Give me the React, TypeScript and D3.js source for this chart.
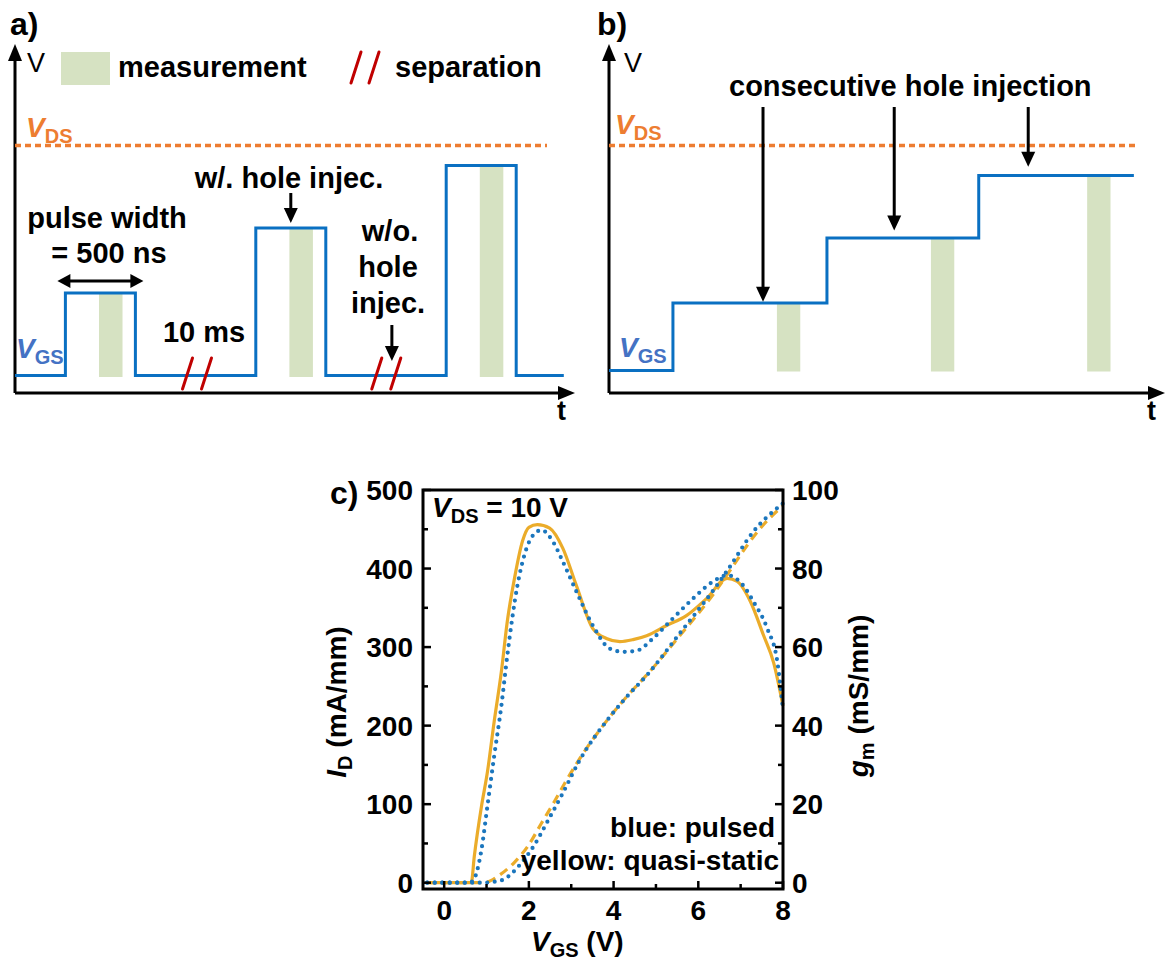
import React from "react";
import * as d3 from "d3";

const W = 1171;
const H = 965;
const FONT = "'Liberation Sans', Arial, Helvetica, sans-serif";

const BLUE = "#0a70c2";
const LBLUE = "#4472c4";
const ORANGE = "#ed7d31";
const GREEN = "#d6e2c2";
const RED = "#c00000";
const YEL = "#ebac2a";
const DOT = "#1b76bd";

// panel a: pulsed V_GS scheme (arbitrary time / voltage units)
const pulseStart = [9, 43, 77];
const pulseWidth = 12.5;
const pulseLevel = [4.0, 6.6, 9.1];
const measOffset = 6;
const measWidth = 4.2;
const baseLevelA = 0.7;
const vdsLevel = 9.9;
const sepMarks = [32.5, 66.3];
const endA = 98;

// panel b: consecutive steps
const stepTimes = [11.5, 39.2, 66.5];
const stepLevels = [0.9, 3.6, 6.2, 8.7];
const endB = 94.4;
const measStartB = [30.2, 57.9, 86];
const injArrowT = [27.7, 51.3, 75.4];
const injArrowTip = [3.65, 6.5, 9.05];

// panel c: transfer curves and transconductance
const vgsTicks = [0, 2, 4, 6, 8];
const vgsMinor = [1, 3, 5, 7];
const idTicks = [0, 100, 200, 300, 400, 500];
const idMinor = [50, 150, 250, 350, 450];
const gmTicks = [0, 20, 40, 60, 80, 100];
const gmMinor = [10, 30, 50, 70, 90];

// g_m, quasi-static (yellow solid)
const gmQsV = [-0.4, 0.3, 0.64, 0.71, 0.88, 1.02, 1.18, 1.35, 1.49, 1.66, 1.85, 2.0, 2.2, 2.49, 2.8, 3.12, 3.51, 3.83, 4.15, 4.46, 4.78, 5.25, 5.72, 6.2, 6.68, 6.92, 7.23, 7.54, 7.78, 8.0];
const gmQs = [0, 0, 0, 6.6, 19.4, 28.1, 41, 53.7, 66.5, 77.5, 87, 90.5, 91.2, 90.3, 85.2, 75.7, 64.7, 62.2, 61.4, 61.9, 62.9, 65.5, 68, 72.4, 77.5, 76.7, 71.6, 63, 56, 45];
// g_m, pulsed (blue dotted)
const gmPV = [-0.4, 0.3, 0.6, 0.71, 0.8, 0.88, 1.02, 1.18, 1.35, 1.49, 1.73, 1.94, 2.1, 2.3, 2.56, 2.8, 3.12, 3.51, 3.91, 4.22, 4.55, 4.93, 5.4, 5.88, 6.35, 6.68, 7.06, 7.3, 7.63, 7.87, 8.0];
const gmP = [0, 0, 0, 1, 4, 8.4, 19.4, 32.2, 45, 57.8, 75.7, 85, 88.5, 89.8, 87, 81.8, 74.2, 65.5, 59.6, 58.8, 59.1, 62.2, 67.3, 72.4, 76.7, 78.3, 75.7, 71.6, 64.7, 56, 44];
// I_D, quasi-static (yellow dashed)
const idQsV = [-0.4, 0.5, 0.85, 1.02, 1.26, 1.66, 1.97, 2.3, 2.61, 2.84, 3.2, 3.91, 4.31, 4.79, 5.57, 6.35, 6.68, 7.16, 7.46, 8.0];
const idQs = [0, 0, 0, 1, 8, 26, 46, 76, 104, 126, 158, 211, 237, 265, 315, 367, 392, 430, 451, 480];
// I_D, pulsed (blue dotted)
const idPV = [-0.4, 0.5, 0.95, 1.15, 1.4, 1.6, 1.82, 2.13, 2.44, 2.8, 3.2, 3.91, 4.3, 4.8, 5.57, 6.35, 6.68, 7.3, 8.0];
const idP = [0, 0, 0, 1, 4, 12, 25, 48, 78, 114, 156, 211, 236, 265, 318, 372, 397, 447, 483];

const zip = (xs: number[], ys: number[]) => xs.map((x, i) => [x, ys[i]] as [number, number]);

function DownArrow({ x, y1, y2 }: { x: number; y1: number; y2: number }) {
  return (
    <g>
      <line x1={x} y1={y1} x2={x} y2={y2 - 12} stroke="#000" strokeWidth={3} />
      <path d={`M${x - 7},${y2 - 15}L${x + 7},${y2 - 15}L${x},${y2}Z`} fill="#000" />
    </g>
  );
}

function Slashes({ cx, y1, y2 }: { cx: number; y1: number; y2: number }) {
  return (
    <g stroke={RED} strokeWidth={3} strokeLinecap="round">
      <line x1={cx - 14.5} y1={y1} x2={cx - 4.5} y2={y2} />
      <line x1={cx + 4.5} y1={y1} x2={cx + 14.5} y2={y2} />
    </g>
  );
}

function Axes({ x0, y0, xEnd, yTop }: { x0: number; y0: number; xEnd: number; yTop: number }) {
  return (
    <g>
      <line x1={x0} y1={y0} x2={x0} y2={yTop + 14} stroke="#000" strokeWidth={3} />
      <path d={`M${x0 - 7},${yTop + 17}L${x0 + 7},${yTop + 17}L${x0},${yTop}Z`} fill="#000" />
      <line x1={x0} y1={y0} x2={xEnd - 14} y2={y0} stroke="#000" strokeWidth={3} />
      <path d={`M${xEnd - 17},${y0 - 7}L${xEnd - 17},${y0 + 7}L${xEnd},${y0}Z`} fill="#000" />
    </g>
  );
}

function Sub({ main, sub, italic = true }: { main: string; sub: string; italic?: boolean }) {
  return (
    <>
      <tspan fontStyle={italic ? "italic" : "normal"}>{main}</tspan>
      <tspan fontSize={20} dy={6}>{sub}</tspan>
    </>
  );
}

export default function App() {
  const xA = d3.scaleLinear().domain([0, 100]).range([15, 575]);
  const yA = d3.scaleLinear().domain([0, 10]).range([393, 143]);
  const xB = d3.scaleLinear().domain([0, 100]).range([609, 1165]);
  const yB = yA.copy();

  const ptsA: [number, number][] = [[0, baseLevelA]];
  pulseStart.forEach((s, i) => {
    ptsA.push([s, baseLevelA], [s, pulseLevel[i]], [s + pulseWidth, pulseLevel[i]], [s + pulseWidth, baseLevelA]);
  });
  ptsA.push([endA, baseLevelA]);
  const lineA = d3.line<[number, number]>().x((d) => xA(d[0])).y((d) => yA(d[1]));

  const ptsB: [number, number][] = [[0, stepLevels[0]], ...stepTimes.map((t, i) => [t, stepLevels[i + 1]] as [number, number]), [endB, stepLevels[3]]];
  const lineB = d3.line<[number, number]>().x((d) => xB(d[0])).y((d) => yB(d[1])).curve(d3.curveStepAfter);

  const xC = d3.scaleLinear().domain([-0.5, 8]).range([423, 783]);
  const yL = d3.scaleLinear().domain([-8, 500]).range([889, 490]);
  const yR = d3.scaleLinear().domain([-1.6, 100]).range([889, 490]);
  const lineL = d3.line<[number, number]>().x((d) => xC(d[0])).y((d) => yL(d[1])).curve(d3.curveMonotoneX);
  const lineR = d3.line<[number, number]>().x((d) => xC(d[0])).y((d) => yR(d[1])).curve(d3.curveMonotoneX);

  const [cl, cr] = xC.range();
  const [cb, ct] = yL.range();

  return (
    <svg width={W} height={H} style={{ position: "absolute", left: 0, top: 0, background: "#fff" }} fontFamily={FONT} fontWeight="bold" fontSize={28}>
      {/* ---------- panel a ---------- */}
      <g fontSize={29}>
        <text x={10} y={35} fontSize={32}>a)</text>
        <Axes x0={xA(0)} y0={yA(0)} xEnd={xA(100)} yTop={44} />
        <text x={27} y={72} fontSize={27} fontWeight="normal">V</text>
        <text x={557} y={420} fontSize={27}>t</text>
        {/* legend */}
        <rect x={61} y={52} width={49} height={33} fill={GREEN} />
        <text x={118} y={77}>measurement</text>
        <g stroke={RED} strokeWidth={3} strokeLinecap="round">
          <line x1={351} y1={83} x2={361} y2={52} />
          <line x1={369} y1={83} x2={379} y2={52} />
        </g>
        <text x={395} y={77}>separation</text>
        {/* VDS */}
        <line x1={xA(0)} x2={xA(95)} y1={yA(vdsLevel)} y2={yA(vdsLevel)} stroke={ORANGE} strokeWidth={3.5} strokeDasharray="6 4" />
        <text x={26} y={137} fill={ORANGE} fontSize={28}><Sub main="V" sub="DS" /></text>
        {/* measurement windows */}
        {pulseStart.map((s, i) => (
          <rect key={i} x={xA(s + measOffset)} width={xA(measWidth) - xA(0)} y={yA(pulseLevel[i])} height={yA(baseLevelA) - yA(pulseLevel[i]) + 1.5} fill={GREEN} />
        ))}
        <path d={lineA(ptsA) || ""} fill="none" stroke={BLUE} strokeWidth={3} />
        <text x={16} y={358} fill={LBLUE} fontSize={28}><Sub main="V" sub="GS" /></text>
        {sepMarks.map((m, i) => (
          <Slashes key={i} cx={xA(m)} y1={389} y2={358} />
        ))}
        {/* annotations */}
        <text x={107} y={228} textAnchor="middle">pulse width</text>
        <text x={109} y={263} textAnchor="middle">= 500 ns</text>
        <g>
          <line x1={xA(pulseStart[0]) - 1} x2={xA(pulseStart[0] + pulseWidth) + 1} y1={281} y2={281} stroke="#000" strokeWidth={3} />
          <path d={`M${xA(pulseStart[0]) - 8},281l13,-7v14Z`} fill="#000" />
          <path d={`M${xA(pulseStart[0] + pulseWidth) + 8},281l-13,-7v14Z`} fill="#000" />
        </g>
        <text x={204} y={342} textAnchor="middle">10 ms</text>
        <text x={289} y={188} textAnchor="middle">w/. hole injec.</text>
        <DownArrow x={xA(pulseStart[1] + pulseWidth / 2)} y1={193} y2={223} />
        <text x={390} y={241} textAnchor="middle">w/o.</text>
        <text x={388} y={277} textAnchor="middle">hole</text>
        <text x={388} y={313} textAnchor="middle">injec.</text>
        <DownArrow x={xA(sepMarks[1] + 1)} y1={325} y2={361} />
      </g>

      {/* ---------- panel b ---------- */}
      <g fontSize={29}>
        <text x={597} y={35} fontSize={32}>b)</text>
        <Axes x0={xB(0)} y0={yB(0)} xEnd={xB(100)} yTop={44} />
        <text x={624} y={72} fontSize={27} fontWeight="normal">V</text>
        <text x={1147} y={420} fontSize={27}>t</text>
        <line x1={xB(0)} x2={xB(95)} y1={yB(vdsLevel)} y2={yB(vdsLevel)} stroke={ORANGE} strokeWidth={3.5} strokeDasharray="6 4" />
        <text x={615} y={134} fill={ORANGE} fontSize={28}><Sub main="V" sub="DS" /></text>
        {measStartB.map((s, i) => (
          <rect key={i} x={xB(s)} width={xB(measWidth) - xB(0)} y={yB(stepLevels[i + 1])} height={yB(stepLevels[0]) - yB(stepLevels[i + 1]) + 1} fill={GREEN} />
        ))}
        <path d={lineB(ptsB) || ""} fill="none" stroke={BLUE} strokeWidth={3} />
        <text x={619} y={357} fill={LBLUE} fontSize={28}><Sub main="V" sub="GS" /></text>
        <text x={729} y={96}>consecutive hole injection</text>
        {injArrowT.map((t, i) => (
          <DownArrow key={i} x={xB(t)} y1={107} y2={yB(injArrowTip[i])} />
        ))}
      </g>

      {/* ---------- panel c ---------- */}
      <text x={330} y={504} fontSize={32}>c)</text>
      <g fill="none">
        <path d={lineR(zip(gmQsV, gmQs)) || ""} stroke={YEL} strokeWidth={3.2} />
        <path d={lineL(zip(idQsV, idQs)) || ""} stroke={YEL} strokeWidth={3.2} strokeDasharray="9 6" />
        <path d={lineR(zip(gmPV, gmP)) || ""} stroke={DOT} strokeWidth={4.2} strokeDasharray="0 7.5" strokeLinecap="round" />
        <path d={lineL(zip(idPV, idP)) || ""} stroke={DOT} strokeWidth={4.2} strokeDasharray="0 7.5" strokeLinecap="round" />
      </g>
      <rect x={cl} y={ct} width={cr - cl} height={cb - ct} fill="none" stroke="#000" strokeWidth={3} />
      <g stroke="#000" strokeWidth={2.5}>
        {vgsTicks.map((v) => <line key={"x" + v} x1={xC(v)} x2={xC(v)} y1={cb} y2={cb - 8} />)}
        {vgsMinor.map((v) => <line key={"xm" + v} x1={xC(v)} x2={xC(v)} y1={cb} y2={cb - 5} />)}
        {idTicks.map((v) => <line key={"l" + v} x1={cl} x2={cl + 8} y1={yL(v)} y2={yL(v)} />)}
        {idMinor.map((v) => <line key={"lm" + v} x1={cl} x2={cl + 5} y1={yL(v)} y2={yL(v)} />)}
        {gmTicks.map((v) => <line key={"r" + v} x1={cr} x2={cr - 8} y1={yR(v)} y2={yR(v)} />)}
        {gmMinor.map((v) => <line key={"rm" + v} x1={cr} x2={cr - 5} y1={yR(v)} y2={yR(v)} />)}
      </g>
      {vgsTicks.map((v) => (
        <text key={"xt" + v} x={xC(v)} y={920} textAnchor="middle">{v}</text>
      ))}
      {idTicks.map((v) => (
        <text key={"lt" + v} x={413} y={yL(v) + 10} textAnchor="end">{v}</text>
      ))}
      {gmTicks.map((v) => (
        <text key={"rt" + v} x={792} y={yR(v) + 10}>{v}</text>
      ))}
      <text x={531} y={951}>
        <Sub main="V" sub="GS" />
        <tspan dy={-6}> (V)</tspan>
      </text>
      <text transform="translate(346,702) rotate(-90)" textAnchor="middle">
        <Sub main="I" sub="D" />
        <tspan dy={-6}> (mA/mm)</tspan>
      </text>
      <text transform="translate(868,696) rotate(-90)" textAnchor="middle">
        <Sub main="g" sub="m" />
        <tspan dy={-6}> (mS/mm)</tspan>
      </text>
      <text x={432} y={517}>
        <Sub main="V" sub="DS" />
        <tspan dy={-6}> = 10 V</tspan>
      </text>
      <text x={775} y={837} textAnchor="end">blue: pulsed</text>
      <text x={779} y={870} textAnchor="end">yellow: quasi-static</text>
    </svg>
  );
}
